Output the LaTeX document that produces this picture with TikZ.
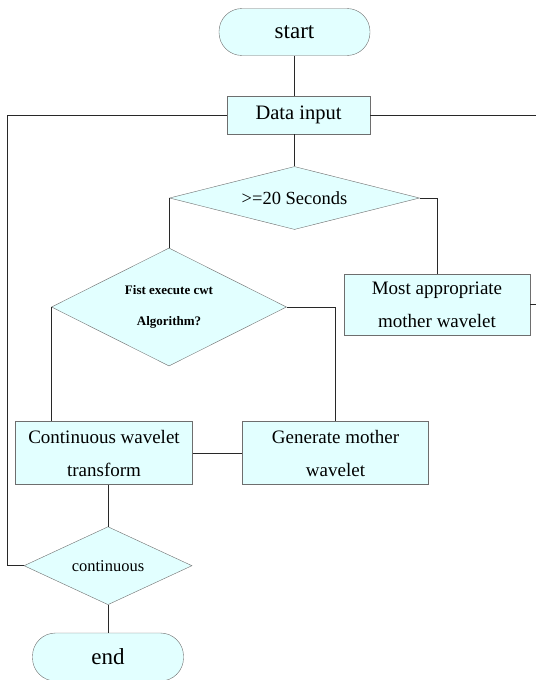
\documentclass[tikz,border=0pt]{standalone}
\usepackage{fontspec}
\setmainfont{Liberation Serif}
\usetikzlibrary{shapes.geometric}
\definecolor{boxfill}{RGB}{226,255,255}
\definecolor{boxline}{RGB}{110,110,110}
\definecolor{flowline}{RGB}{40,40,40}

\begin{document}
\begin{tikzpicture}[x=1pt,y=1pt,yscale=-1,
  terminal/.style={draw=boxline,fill=boxfill,rounded corners=23pt,minimum width=151pt,minimum height=47pt,inner sep=0pt,font=\fontsize{23}{27}\selectfont},
  process/.style={draw=boxline,fill=boxfill,inner sep=0pt,align=center,font=\fontsize{19}{33}\selectfont},
  decision/.style={diamond,draw=boxline,fill=boxfill,inner sep=0pt,align=center},
  flow/.style={draw=flowline,line width=1pt}]
\path[use as bounding box] (0,0) rectangle (536,680);

% Nodes
\node[terminal] (start) at (294.5,32) {start};
\node[process,minimum width=143pt,minimum height=38pt,font=\fontsize{20.5}{24}\selectfont] (data) at (298.5,115) {Data input};
\node[decision,minimum width=250pt,minimum height=63pt,aspect=4,font=\fontsize{18.5}{22}\selectfont] (sec) at (294.5,198) {>=20 Seconds};
\node[decision,minimum width=235pt,minimum height=118pt,aspect=2,font=\bfseries\fontsize{13}{31}\selectfont] (fist) at (169,307) {Fist execute cwt\\Algorithm?};
\node[process,minimum width=186pt,minimum height=61pt] (most) at (437,304.7) {Most appropriate\\mother wavelet};
\node[process,minimum width=177pt,minimum height=63pt] (cwt) at (104,453) {Continuous wavelet\\transform};
\node[process,minimum width=186pt,minimum height=63pt] (gen) at (335.5,453) {Generate mother\\wavelet};
\node[decision,minimum width=168pt,minimum height=78pt,aspect=2.15,font=\fontsize{16.5}{20}\selectfont] (cont) at (108,565.7) {continuous};
\node[terminal,minimum height=48pt] (stop) at (108,657) {end};

% Edge coordinates
\coordinate (redge) at (536,0);
\coordinate (ledge) at (7,0);

% Connectors
\draw[flow] (start) -- (start |- data.north);
\draw[flow] (sec.north) -- (sec.north |- data.south);
\draw[flow] (data.east) -- (data.east -| redge);
\draw[flow] (data.west) -- (data.west -| ledge) |- (cont.west);
\draw[flow] (sec.west) -| (fist.north);
\draw[flow] (sec.east) -| (most.north);
\draw[flow] (most.east) -- (most.east -| redge);
\draw[flow] (fist.west) -- (fist.west |- cwt.north);
\draw[flow] (fist.east) -| (gen.north);
\draw[flow] (cwt.east) -- (gen.west);
\draw[flow] (cont.north) -- (cont.north |- cwt.south);
\draw[flow] (cont) -- (stop);

\end{tikzpicture}
\end{document}
